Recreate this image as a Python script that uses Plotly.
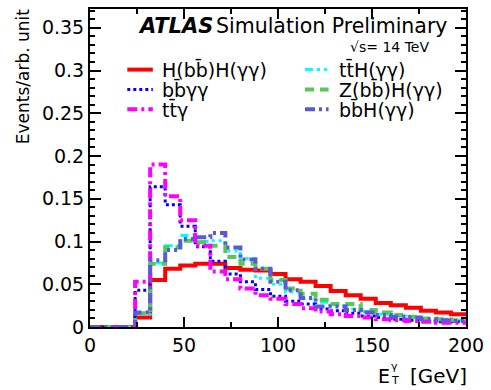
import plotly.graph_objects as go

# bin edges (GeV), 8 GeV bins from 0 to 200
bin_edges = list(range(0, 208, 8))

hh_bbyy = [0, 0, 0, 0.011, 0.055, 0.068, 0.072, 0.074, 0.074, 0.069, 0.067, 0.066, 0.062,
           0.056, 0.053, 0.048, 0.042, 0.037, 0.033, 0.028, 0.0255, 0.0225, 0.019, 0.017, 0.015]
tth_yy = [0, 0, 0, 0.015, 0.075, 0.095, 0.107, 0.100, 0.101, 0.089, 0.080, 0.057, 0.050,
          0.041, 0.033, 0.029, 0.025, 0.021, 0.018, 0.015, 0.013, 0.011, 0.010, 0.009, 0.008]
bbyy = [0, 0, 0, 0.043, 0.164, 0.143, 0.118, 0.094, 0.077, 0.062, 0.053, 0.044, 0.036,
        0.030, 0.027, 0.021, 0.019, 0.016, 0.013, 0.011, 0.009, 0.008, 0.007, 0.006, 0.006]
zh_yy = [0, 0, 0, 0.016, 0.074, 0.093, 0.101, 0.099, 0.095, 0.082, 0.074, 0.068, 0.055,
         0.045, 0.039, 0.032, 0.027, 0.027, 0.020, 0.017, 0.014, 0.012, 0.010, 0.009, 0.008]
tty = [0, 0, 0, 0.053, 0.190, 0.153, 0.125, 0.095, 0.065, 0.056, 0.045, 0.037, 0.033,
       0.027, 0.022, 0.018, 0.015, 0.013, 0.011, 0.009, 0.008, 0.007, 0.006, 0.005, 0.005]
bbh_yy = [0, 0, 0, 0.017, 0.078, 0.090, 0.103, 0.105, 0.110, 0.093, 0.079, 0.068, 0.053,
          0.043, 0.034, 0.024, 0.024, 0.020, 0.017, 0.014, 0.012, 0.011, 0.009, 0.008, 0.007]

OB = "\u0304"
# name, values, colour, dash, width, legend column, legend row
series = [
    ("H(b" + "b" + OB + ")H(γγ)", hh_bbyy, "#FF0000", "solid", 4, 0, 0),
    ("t" + "t" + OB + "H(γγ)", tth_yy, "#00FFFF", "8px,4px,3px,4px,3px,4px", 3, 1, 0),
    ("b" + "b" + OB + "γγ", bbyy, "#0000FF", "3px,3px", 3, 0, 1),
    ("Z(b" + "b" + OB + ")H(γγ)", zh_yy, "#55C855", "9px,6px", 4, 1, 1),
    ("t" + "t" + OB + "γ", tty, "#FF00FF", "10px,4px,3px,4px", 4, 0, 2),
    ("b" + "b" + OB + "H(γγ)", bbh_yy, "#5A5AD8", "10px,4px,3px,4px,3px,4px", 4, 1, 2),
]

FONT = "DejaVu Sans"
L, R, T, B, W, H = 90, 18, 7, 63, 491, 390
PW, PH = W - L - R, H - T - B


def px(pix):
    return (pix - L) / PW


def py(pix):
    return (H - B - pix) / PH


fig = go.Figure()
for name, vals, col, dash, w, c, r in series:
    fig.add_trace(go.Scatter(
        x=bin_edges, y=vals + [vals[-1]], mode="lines", name=name,
        line=dict(color=col, dash=dash, width=w, shape="hv"),
    ))

axis_common = dict(
    showgrid=False, zeroline=False, showline=True, linecolor="black", linewidth=2,
    mirror="ticks", ticks="inside", tickcolor="black", tickwidth=1.5,
    tickfont=dict(family=FONT, size=19, color="black"),
    ticklabeloverflow="allow",
)
fig.update_xaxes(range=[0, 200], dtick=50, ticklen=10,
                 minor=dict(dtick=25, ticks="inside", ticklen=5, tickcolor="black", tickwidth=1.5),
                 **axis_common)
fig.update_yaxes(range=[0, 0.372], dtick=0.05, ticklen=11, tickformat="~g",
                 minor=dict(dtick=0.01, ticks="inside", ticklen=5, tickcolor="black", tickwidth=1.5),
                 **axis_common)

fig.update_layout(
    width=W, height=H,
    margin=dict(l=L, r=R, t=T, b=B),
    paper_bgcolor="white", plot_bgcolor="white",
    showlegend=False,
)

# manual two-column legend
col_line = [(128, 154), (309, 333)]
col_text = [161, 342]
row_y = [68, 88, 108]
for name, vals, col, dash, w, c, r in series:
    x0, x1 = col_line[c]
    fig.add_shape(type="line", xref="paper", yref="paper",
                  x0=px(x0), x1=px(x1), y0=py(row_y[r]), y1=py(row_y[r]),
                  line=dict(color=col, dash=dash, width=w))
    fig.add_annotation(text=name, x=px(col_text[c]), y=py(row_y[r]), xref="paper", yref="paper",
                       showarrow=False, xanchor="left", yanchor="middle",
                       font=dict(family=FONT, size=19, color="black"))

fig.add_annotation(text="<b><i>ATLAS</i></b>", x=px(137), y=py(24), xref="paper", yref="paper",
                   showarrow=False, xanchor="left", yanchor="middle",
                   font=dict(family=FONT, size=21, color="black"))
fig.add_annotation(text="Simulation Preliminary", x=px(456), y=py(24), xref="paper", yref="paper",
                   showarrow=False, xanchor="right", yanchor="middle",
                   font=dict(family=FONT, size=20.5, color="black"))
fig.add_annotation(text="√s= 14 TeV", x=px(437), y=py(45), xref="paper", yref="paper",
                   showarrow=False, xanchor="right", yanchor="middle",
                   font=dict(family=FONT, size=14, color="black"))
fig.add_annotation(text="Events/arb. unit", x=px(22), y=py(4), xref="paper", yref="paper",
                   showarrow=False, xanchor="center", yanchor="top", textangle=-90,
                   font=dict(family=FONT, size=17, color="black"))
# x-axis title: E with stacked T (sub) and gamma (sup)
fig.add_annotation(text="E", x=px(381), y=py(376), xref="paper", yref="paper",
                   showarrow=False, xanchor="left", yanchor="middle",
                   font=dict(family=FONT, size=19, color="black"))
fig.add_annotation(text="γ", x=px(395), y=py(367), xref="paper", yref="paper",
                   showarrow=False, xanchor="left", yanchor="middle",
                   font=dict(family=FONT, size=11, color="black"))
fig.add_annotation(text="T", x=px(395), y=py(381), xref="paper", yref="paper",
                   showarrow=False, xanchor="left", yanchor="middle",
                   font=dict(family=FONT, size=11, color="black"))
fig.add_annotation(text="[GeV]", x=1.0, y=py(376), xref="paper", yref="paper",
                   showarrow=False, xanchor="right", yanchor="middle", xshift=3,
                   font=dict(family=FONT, size=20, color="black"))

fig.write_html("out.html")
